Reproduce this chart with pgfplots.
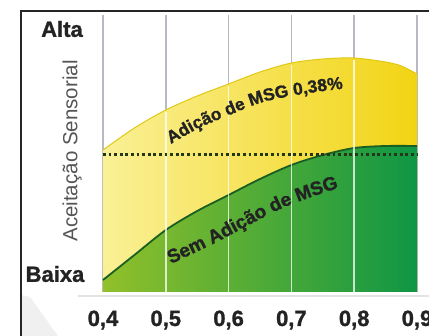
\documentclass[border=0pt]{standalone}
\usepackage{pgfplots}
\pgfplotsset{compat=1.18}
\usepackage{fontspec}
\setmainfont{Liberation Sans}[BoldFeatures={FakeBold=1.2}]
\usetikzlibrary{decorations.text}

\definecolor{ylight}{RGB}{250,240,150}
\definecolor{ymid}{RGB}{247,228,70}
\definecolor{ybright}{RGB}{242,212,20}
\definecolor{yrim}{RGB}{225,200,20}
\definecolor{gleft}{RGB}{145,192,42}
\definecolor{gmid}{RGB}{45,160,58}
\definecolor{gright}{RGB}{15,150,68}
\definecolor{gline}{RGB}{25,95,35}
\definecolor{dotc}{RGB}{35,55,25}
\definecolor{gridg}{RGB}{185,185,195}
\definecolor{txt}{RGB}{35,35,35}
\definecolor{labg}{RGB}{85,85,85}

\begin{document}
\begin{tikzpicture}
\useasboundingbox (0,0) rectangle (429pt,336pt);
\begin{axis}[at={(0,0)}, anchor=south west, scale only axis,
  width=429pt, height=336pt,
  xmin=0.23599, xmax=0.91911, ymin=-44, ymax=292,
  axis line style={draw=none}, tick style={draw=none}, major tick length=0pt,
  xtick={0.4,0.5,0.6,0.7,0.8,0.9},
  xticklabels={{0,4},{0,5},{0,6},{0,7},{0,8},{0,9}},
  ytick=\empty,
  xticklabel style={font=\fontsize{22}{22}\selectfont\bfseries, text=txt, anchor=center, yshift=16pt},
  /pgf/number format/assume math mode=true,
  clip=false]

% decorative wedge and shadow
\fill[gray!12] (axis cs:0.26943,-3) -- (axis cs:0.26943,-44) -- (axis cs:0.3283,-44) -- (axis cs:0.2838,-5) -- cycle;
\draw[gray!22, line width=2pt] (axis cs:0.36,-4) -- (axis cs:0.93,-4);

% gray grid lines
\pgfplotsinvokeforeach{0.4,0.5,0.6,0.7,0.8,0.9}{
  \draw[gridg, line width=1.5pt] (axis cs:#1,0) -- (axis cs:#1,277);
}

% yellow area
\addplot[draw=none, left color=ylight, middle color=ymid, right color=ybright, smooth]
  coordinates {(0.40,142) (0.45,164) (0.50,182) (0.55,196) (0.60,208) (0.65,220)
               (0.70,229) (0.75,233) (0.80,234) (0.85,230) (0.875,226) (0.90,218)} \closedcycle;
\addplot[yrim, line width=1pt, smooth]
  coordinates {(0.40,142) (0.45,164) (0.50,182) (0.55,196) (0.60,208) (0.65,220)
               (0.70,229) (0.75,233) (0.80,234) (0.85,230) (0.875,226) (0.90,218)};

% green area
\addplot[draw=none, left color=gleft, middle color=gmid, right color=gright, smooth]
  coordinates {(0.40,12) (0.45,37) (0.50,62) (0.55,81) (0.60,97) (0.65,113)
               (0.70,127) (0.75,137) (0.80,144) (0.85,146) (0.90,146)} \closedcycle;
\addplot[gline, line width=1.8pt, smooth]
  coordinates {(0.40,12) (0.45,37) (0.50,62) (0.55,81) (0.60,97) (0.65,113)
               (0.70,127) (0.75,137) (0.80,144) (0.85,146) (0.90,146)};

% white grid over fills
\draw[white, opacity=0.75, line width=1.5pt] (axis cs:0.5,0) -- (axis cs:0.5,180);
\draw[white, opacity=0.75, line width=1.5pt] (axis cs:0.6,0) -- (axis cs:0.6,206);
\draw[white, opacity=0.75, line width=1.5pt] (axis cs:0.7,0) -- (axis cs:0.7,227);
\draw[white, opacity=0.75, line width=1.5pt] (axis cs:0.8,0) -- (axis cs:0.8,232);

% dotted reference line
\addplot[dotc, line width=3pt, dash pattern=on 2.8pt off 2.8pt]
  coordinates {(0.40,137) (0.90,137)};

% curve labels
\path[decorate, decoration={text along path, text color=txt,
   text={|\fontsize{17.5}{17.5}\selectfont\bfseries|Adição de MSG 0,38{\%}},
   text align={left indent=0pt}}]
   plot[smooth] coordinates {(0.508,148) (0.55,163) (0.594,175) (0.65,189) (0.70,196) (0.78,203) (0.88,205)};
\path[decorate, decoration={text along path, text color=txt,
   text={|\fontsize{19}{19}\selectfont\bfseries|Sem Adição de MSG},
   text align={left indent=0pt}}]
   plot[smooth] coordinates {(0.508,28) (0.578,49) (0.669,79) (0.714,91) (0.782,105) (0.88,116)};

% axis texts
\node[font=\fontsize{22}{22}\selectfont\bfseries, text=txt] at (axis cs:0.33471,263) {Alta};
\node[font=\fontsize{22}{22}\selectfont\bfseries, text=txt] at (axis cs:0.32357,18) {Baixa};
\node[rotate=90, font=\fontsize{20.5}{20.5}\selectfont, text=labg] at (axis cs:0.35064,141) {Aceitação Sensorial};

% frame
\draw[black!85, line width=1.5pt] (axis cs:0.26943,-44) -- (axis cs:0.26943,281) -- (axis cs:0.93,281);
\end{axis}
\end{tikzpicture}
\end{document}
